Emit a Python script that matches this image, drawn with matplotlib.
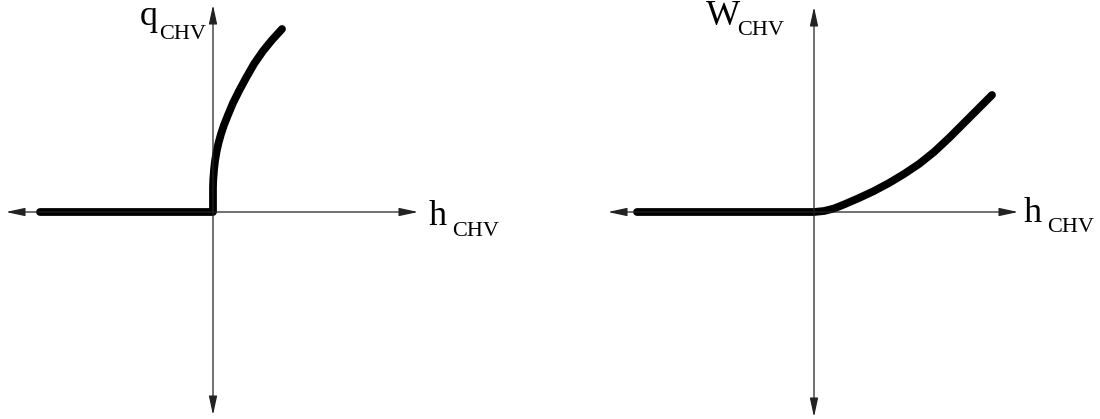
import matplotlib
matplotlib.use("Agg")
import matplotlib.pyplot as plt

plt.rcParams["font.family"] = ["Liberation Serif", "DejaVu Serif"]

# left panel: flow rate q vs head h
q_h = [-1.73, 0.0, 0.0, 0.003, 0.01, 0.02, 0.035, 0.055, 0.08, 0.11, 0.15,
       0.20, 0.26, 0.33, 0.41, 0.50, 0.59, 0.69]
q_val = [0.0, 0.0, 0.25, 0.33, 0.42, 0.51, 0.60, 0.69, 0.78, 0.87, 0.97,
         1.09, 1.21, 1.34, 1.48, 1.61, 1.72, 1.83]

# right panel: power W vs head h
w_h = [-1.77, 0.0, 0.1, 0.2, 0.3, 0.45, 0.6, 0.75, 0.9, 1.05, 1.2, 1.35,
       1.5, 1.65, 1.78]
w_val = [0.0, 0.0, 0.01, 0.035, 0.075, 0.14, 0.21, 0.29, 0.38, 0.48, 0.60,
         0.74, 0.89, 1.04, 1.17]

AXIS_COLOR = "#222222"
CURVE_COLOR = "black"


def draw_axes(ax, xlo, xhi, ylo, yhi):
    style = "<|-|>,head_length=1.15,head_width=0.25"
    for start, end in [((xlo, 0), (xhi, 0)), ((0, ylo), (0, yhi))]:
        ax.annotate(
            "", xy=end, xytext=start,
            arrowprops=dict(arrowstyle=style, mutation_scale=10, lw=0.9,
                            color=AXIS_COLOR, shrinkA=0, shrinkB=0),
        )


fig = plt.figure(figsize=(11, 4.19), dpi=100)

ax1 = fig.add_axes([0, 0, 0.5, 1])
ax1.set_xlim(-2.13, 3.37)
ax1.set_ylim(-2.07, 2.12)
ax1.axis("off")
draw_axes(ax1, -2.07, 2.05, -2.03, 2.07)
ax1.plot(q_h, q_val, color=CURVE_COLOR, lw=5.6, solid_capstyle="round",
         solid_joinstyle="round")
ax1.text(-0.73, 1.87, "q", fontsize=26, va="baseline", ha="left")
ax1.text(-0.54, 1.73, "CHV", fontsize=16, va="baseline", ha="left")
ax1.text(2.16, -0.13, "h", fontsize=26, va="baseline", ha="left")
ax1.text(2.39, -0.24, "CHV", fontsize=16, va="baseline", ha="left")

ax2 = fig.add_axes([0.5, 0, 0.5, 1])
ax2.set_xlim(-2.64, 2.86)
ax2.set_ylim(-2.07, 2.12)
ax2.axis("off")
draw_axes(ax2, -2.06, 2.04, -2.05, 2.05)
ax2.plot(w_h, w_val, color=CURVE_COLOR, lw=5.6, solid_capstyle="round",
         solid_joinstyle="round")
ax2.text(-1.08, 1.87, "W", fontsize=26, va="baseline", ha="left")
ax2.text(-0.77, 1.77, "CHV", fontsize=16, va="baseline", ha="left")
ax2.text(2.10, -0.10, "h", fontsize=26, va="baseline", ha="left")
ax2.text(2.33, -0.20, "CHV", fontsize=16, va="baseline", ha="left")

fig.savefig("out.png", dpi=100, facecolor="white")
